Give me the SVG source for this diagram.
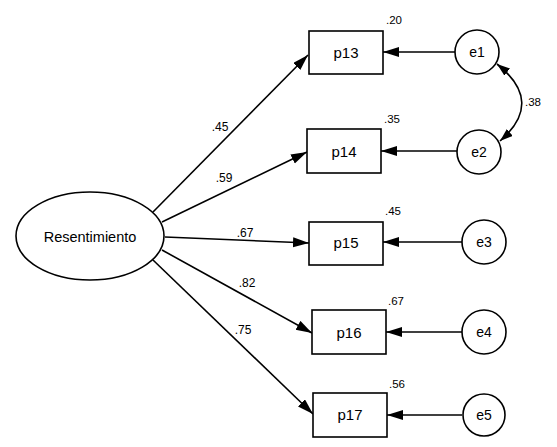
<svg xmlns="http://www.w3.org/2000/svg" width="557" height="447" viewBox="0 0 557 447">
<style>
.n{fill:#fff;stroke:#000;stroke-width:1.6}
.t{font-family:"Liberation Sans",Arial,sans-serif;fill:#000;text-anchor:middle}
.lbl{font-size:15px}
.e{font-size:14px}
.c{font-size:12px}
.r{font-size:11.5px;text-anchor:start}
.ln{stroke:#000;stroke-width:1.6;fill:none}
</style>
<defs>
<marker id="ah" markerUnits="userSpaceOnUse" markerWidth="17" markerHeight="11" refX="16" refY="5" orient="auto"><path d="M0,0 L16,5 L0,10 z" fill="#000"/></marker>
<marker id="ah2" markerUnits="userSpaceOnUse" markerWidth="14" markerHeight="10" refX="13" refY="4.5" orient="auto-start-reverse"><path d="M0,0 L13,4.5 L0,9 z" fill="#000"/></marker>
</defs>
<rect width="557" height="447" fill="#fff"/>
<g id="connectors">
<line class="ln" x1="153" y1="212" x2="308" y2="55" marker-end="url(#ah)"/>
<line class="ln" x1="162" y1="222" x2="307" y2="152" marker-end="url(#ah)"/>
<line class="ln" x1="165" y1="237" x2="309" y2="243" marker-end="url(#ah)"/>
<line class="ln" x1="162" y1="250" x2="312" y2="333" marker-end="url(#ah)"/>
<line class="ln" x1="153" y1="260" x2="313" y2="414" marker-end="url(#ah)"/>
<line class="ln" x1="455" y1="52" x2="383" y2="52" marker-end="url(#ah)"/>
<line class="ln" x1="457" y1="151" x2="381" y2="151" marker-end="url(#ah)"/>
<line class="ln" x1="462" y1="242" x2="383" y2="242" marker-end="url(#ah)"/>
<line class="ln" x1="462" y1="332" x2="386" y2="332" marker-end="url(#ah)"/>
<line class="ln" x1="462" y1="415" x2="387" y2="415" marker-end="url(#ah)"/>
<path class="ln" d="M497,64 Q545,102 500,141" marker-start="url(#ah2)" marker-end="url(#ah2)"/>
<text class="t c" x="220" y="131">.45</text>
<text class="t c" x="224" y="182">.59</text>
<text class="t c" x="245" y="237">.67</text>
<text class="t c" x="247" y="287">.82</text>
<text class="t c" x="243" y="334">.75</text>
<text class="t r" x="525" y="106">.38</text>
</g>
<g id="Resentimiento">
<ellipse class="n" cx="90" cy="236" rx="74" ry="44"/>
<text class="t" style="font-size:14.5px" x="90" y="242">Resentimiento</text>
</g>
<g id="p13">
<rect class="n" x="309" y="31" width="74" height="43"/>
<text class="t lbl" x="346" y="58">p13</text>
<text class="t r" x="386" y="24">.20</text>
</g>
<g id="p14">
<rect class="n" x="307" y="129" width="74" height="44"/>
<text class="t lbl" x="344" y="157">p14</text>
<text class="t r" x="384" y="123">.35</text>
</g>
<g id="p15">
<rect class="n" x="309" y="222" width="74" height="43"/>
<text class="t lbl" x="346" y="248">p15</text>
<text class="t r" x="385" y="215">.45</text>
</g>
<g id="p16">
<rect class="n" x="312" y="310" width="74" height="44"/>
<text class="t lbl" x="349" y="338">p16</text>
<text class="t r" x="388" y="305">.67</text>
</g>
<g id="p17">
<rect class="n" x="313" y="393" width="74" height="44"/>
<text class="t lbl" x="350" y="420">p17</text>
<text class="t r" x="389" y="388">.56</text>
</g>
<g id="e1">
<circle class="n" cx="477" cy="52" r="22"/>
<text class="t e" x="477" y="57">e1</text>
</g>
<g id="e2">
<circle class="n" cx="479" cy="152" r="22"/>
<text class="t e" x="479" y="157">e2</text>
</g>
<g id="e3">
<circle class="n" cx="484" cy="242" r="22"/>
<text class="t e" x="484" y="247">e3</text>
</g>
<g id="e4">
<circle class="n" cx="484" cy="332" r="22"/>
<text class="t e" x="484" y="337">e4</text>
</g>
<g id="e5">
<circle class="n" cx="484" cy="415" r="21"/>
<text class="t e" x="484" y="420">e5</text>
</g>
</svg>
